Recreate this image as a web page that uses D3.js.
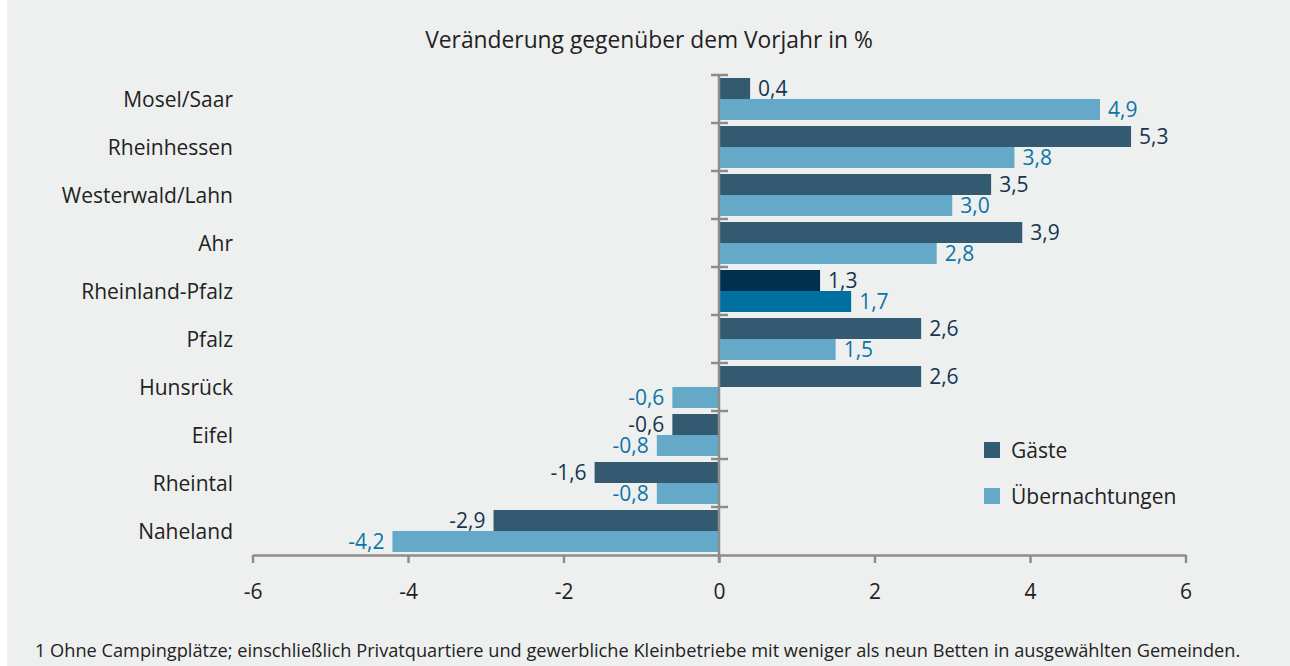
<!DOCTYPE html>
<html>
<head>
<meta charset="utf-8">
<script src="https://cdn.jsdelivr.net/npm/d3@7"></script>
<style>
  body { margin: 0; background: #eef0ef; }
  svg { display: block; }
  text { font-family: "Open Sans", "Noto Sans", sans-serif; }
</style>
</head>
<body>
<svg id="vis" width="1290" height="666"></svg>
<script>
// data
const regions = ["Mosel/Saar", "Rheinhessen", "Westerwald/Lahn", "Ahr", "Rheinland-Pfalz",
                 "Pfalz", "Hunsrück", "Eifel", "Rheintal", "Naheland"];
const gaeste = [0.4, 5.3, 3.5, 3.9, 1.3, 2.6, 2.6, -0.6, -1.6, -2.9];
const uebernachtungen = [4.9, 3.8, 3.0, 2.8, 1.7, 1.5, -0.6, -0.8, -0.8, -4.2];
const seriesNames = ["Gäste", "Übernachtungen"];
const xTicks = [-6, -4, -2, 0, 2, 4, 6];
const highlight = "Rheinland-Pfalz";

const COLOURS = {Gäste: "#345a72", Übernachtungen: "#64aac8"};
const HIGHLIGHT = {Gäste: "#00304d", Übernachtungen: "#0070a0"};
const LABELCOL = {Gäste: "#163650", Übernachtungen: "#0c75a6"};

const svg = d3.select("#vis");
svg.append("rect").attr("x", 7).attr("y", 0).attr("width", 1283).attr("height", 666).attr("fill", "#eef0ef");
svg.append("rect").attr("x", 0).attr("y", 0).attr("width", 7).attr("height", 666).attr("fill", "#ffffff");

const x = d3.scaleLinear().domain([-6, 6]).range([252.5, 1185.5]);
const y = d3.scaleBand().domain(regions).range([75, 555]);
const inner = d3.scaleBand().domain(seriesNames).range([3, y.bandwidth() - 3]);

const fmt = v => d3.format(".1f")(v).replace(".", ",").replace("−", "-");

// title
svg.append("text")
    .attr("x", 649).attr("y", 48)
    .attr("text-anchor", "middle")
    .style("font-size", "22.8px").attr("fill", "#222")
    .text("Veränderung gegenüber dem Vorjahr in %");

// bars
const rows = regions.map((r, i) => ({region: r, values: [
    {key: "Gäste", value: gaeste[i]},
    {key: "Übernachtungen", value: uebernachtungen[i]}
]}));

const groups = svg.selectAll("g.row").data(rows).enter().append("g")
    .attr("class", "row")
    .attr("transform", d => `translate(0,${y(d.region)})`);

groups.selectAll("rect").data(d => d.values.map(v => Object.assign({region: d.region}, v)))
    .enter().append("rect")
    .attr("x", d => x(Math.min(0, d.value)))
    .attr("y", d => inner(d.key))
    .attr("width", d => Math.abs(x(d.value) - x(0)))
    .attr("height", inner.bandwidth())
    .attr("fill", d => d.region === highlight ? HIGHLIGHT[d.key] : COLOURS[d.key]);

groups.selectAll("text.val").data(d => d.values)
    .enter().append("text")
    .attr("class", "val")
    .attr("x", d => d.value >= 0 ? x(d.value) + 8 : x(d.value) - 8)
    .attr("y", d => inner(d.key) + inner.bandwidth() / 2)
    .attr("dy", "0.36em")
    .attr("text-anchor", d => d.value >= 0 ? "start" : "end")
    .style("font-size", "21px")
    .attr("fill", d => LABELCOL[d.key])
    .text(d => fmt(d.value));

// category labels
svg.selectAll("text.cat").data(regions).enter().append("text")
    .attr("class", "cat")
    .attr("x", 233)
    .attr("y", d => y(d) + y.bandwidth() / 2)
    .attr("dy", "0.36em")
    .attr("text-anchor", "end")
    .style("font-size", "21px").attr("fill", "#222")
    .text(d => d);

// x axis
const xAxis = svg.append("g")
    .attr("transform", `translate(0,${555})`)
    .call(d3.axisBottom(x).tickValues(xTicks).tickSize(8).tickSizeOuter(0).tickPadding(21)
        .tickFormat(d => d3.format("d")(d).replace("−", "-")));
xAxis.select(".domain").attr("stroke", "#8c8c8c").attr("stroke-width", 2.5);
xAxis.selectAll(".tick line").attr("stroke", "#8c8c8c").attr("stroke-width", 2.5);
xAxis.selectAll(".tick text").style("font-size", "21px").attr("fill", "#222");

// y axis at zero with crossing ticks
const yEdges = regions.map(r => y(r));
const yAxis = svg.append("g");
yAxis.append("line")
    .attr("x1", x(0)).attr("x2", x(0))
    .attr("y1", y.range()[0]).attr("y2", y.range()[1] + 8)
    .attr("stroke", "#8c8c8c").attr("stroke-width", 2.5);
yAxis.selectAll("line.tk").data(yEdges).enter().append("line")
    .attr("class", "tk")
    .attr("x1", x(0) - 8).attr("x2", x(0) + 9)
    .attr("y1", d => d).attr("y2", d => d)
    .attr("stroke", "#8c8c8c").attr("stroke-width", 2.5);

// legend
const legend = svg.selectAll("g.legend").data(seriesNames).enter().append("g")
    .attr("class", "legend")
    .attr("transform", (d, i) => `translate(984,${442 + i * 46})`);
legend.append("rect")
    .attr("width", 16).attr("height", 16)
    .attr("fill", d => COLOURS[d]);
legend.append("text")
    .attr("x", 27).attr("y", 8).attr("dy", "0.36em")
    .style("font-size", "21px").attr("fill", "#222")
    .text(d => d);

// footnote
svg.append("text")
    .attr("x", 35).attr("y", 657)
    .style("font-size", "18.2px").attr("fill", "#222")
    .text("1 Ohne Campingplätze; einschließlich Privatquartiere und gewerbliche Kleinbetriebe mit weniger als neun Betten in ausgewählten Gemeinden.");
</script>
</body>
</html>
